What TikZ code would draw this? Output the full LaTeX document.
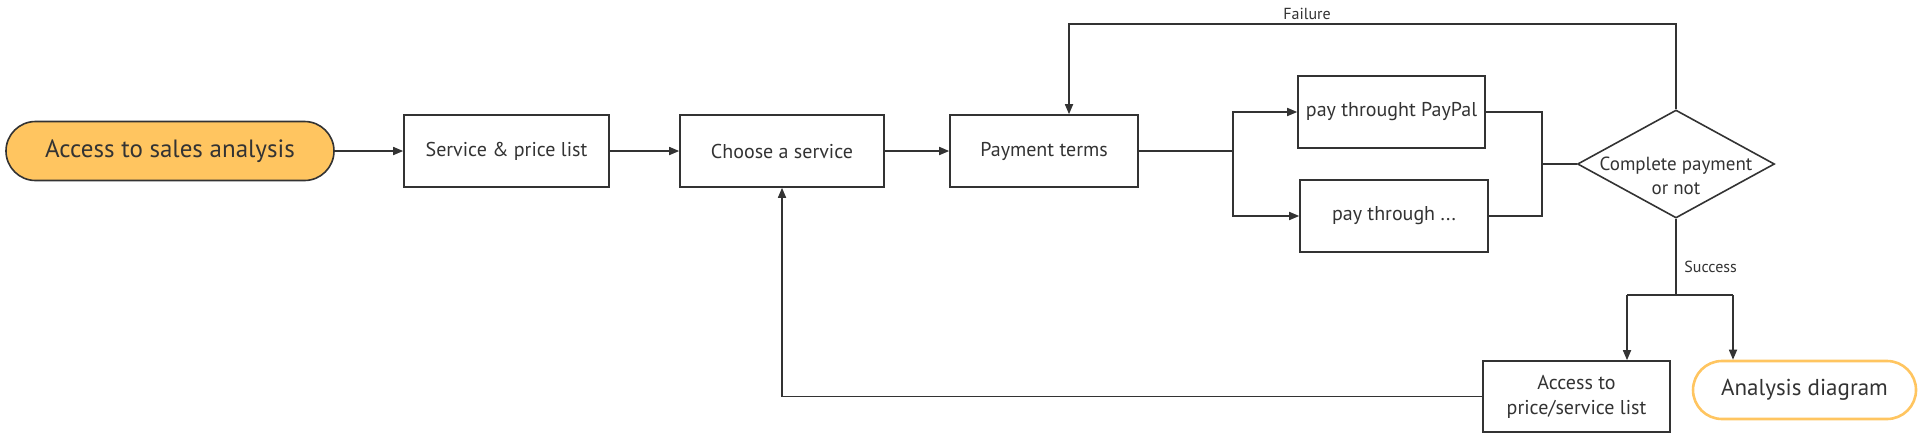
\documentclass[tikz,border=0pt]{standalone}
\usepackage{fontspec}
\setmainfont{PT Sans}
\usetikzlibrary{shapes.geometric,arrows.meta}
\definecolor{ink}{HTML}{333333}
\definecolor{orng}{HTML}{FFC560}
\begin{document}
\begin{tikzpicture}[x=0.5pt,y=-0.5pt,
  every node/.style={text=ink},
  box/.style={draw=ink, line width=0.8pt, fill=white, minimum width=#1, minimum height=36pt, inner sep=0pt, align=center, font=\fontsize{10}{12.5}\selectfont},
  startbox/.style={draw=ink, line width=0.8pt, fill=orng, minimum width=164pt, minimum height=29.5pt, rounded corners=14.75pt, inner sep=0pt, font=\fontsize{12.5}{15}\selectfont},
  endbox/.style={draw=orng, line width=1.3pt, fill=white, minimum width=111.5pt, minimum height=29pt, rounded corners=14.5pt, inner sep=0pt, font=\fontsize{11.5}{14}\selectfont},
  decision/.style={draw=ink, line width=0.8pt, diamond, inner sep=0pt},
  line/.style={draw=ink, line width=0.8pt},
  arr/.style={line, -{Triangle[length=5pt,width=4pt]}},
  lbl/.style={font=\fontsize{8}{10}\selectfont, inner sep=1pt}
]
\useasboundingbox (0,0) rectangle (1920,445);

\node[startbox] (start) at (170,151) {Access to sales analysis};
\node[box=102.5pt] (svc) at (506.5,151) {Service \& price list};
\node[box=102pt] (choose) at (782,151) {Choose a service};
\node[box=94pt] (pay) at (1044,151) {Payment terms};
\node[box=93.5pt] (paypal) at (1391.5,112) {pay throught PayPal};
\node[box=94pt] (other) at (1394,216) {pay through ...};
\node[decision, minimum width=98.5pt, minimum height=54pt] (dia) at (1676,164) {};
\node[align=center, font=\fontsize{9.5}{12.3}\selectfont, inner sep=0pt] (diatext) at (1676,176) {Complete payment\\or not};
\node[box=93.5pt, minimum height=35.5pt] (acc) at (1576.5,396.5) {Access to\\price/service list};
\node[endbox] (ana) at (1804.5,390) {Analysis diagram};

\draw[arr] (start) -- (svc);
\draw[arr] (svc) -- (choose);
\draw[arr] (choose) -- (pay);

\coordinate (split) at (1233,151);
\draw[line] (pay.east) -- (split);
\draw[arr] (split) |- (paypal.west);
\draw[arr] (split) |- (other.west);

\coordinate (merge) at (1542,164);
\draw[line] (paypal.east) -| (merge);
\draw[line] (other.east) -| (merge);
\draw[line] (merge) -- (dia.west);

\coordinate (ftop) at (1676,24);
\coordinate (fend) at (1069,24);
\draw[arr] (dia.north) -- (ftop) -- (fend) -- (fend |- pay.north);
\node[lbl] (failure) at (1307,14) {Failure};

\coordinate (ssplit) at (1676,295);
\coordinate (sl) at (1627,295);
\coordinate (sr) at (1733,295);
\draw[line] (dia.south) -- (ssplit);
\draw[line] (sl) -- (sr);
\draw[arr] (sl) -- (sl |- acc.north);
\draw[arr] (sr) -- (sr |- ana.north);
\node[lbl, anchor=west] (success) at (1682,267) {Success};

\draw[arr] (acc.west) -| (choose.south);
\end{tikzpicture}
\end{document}
